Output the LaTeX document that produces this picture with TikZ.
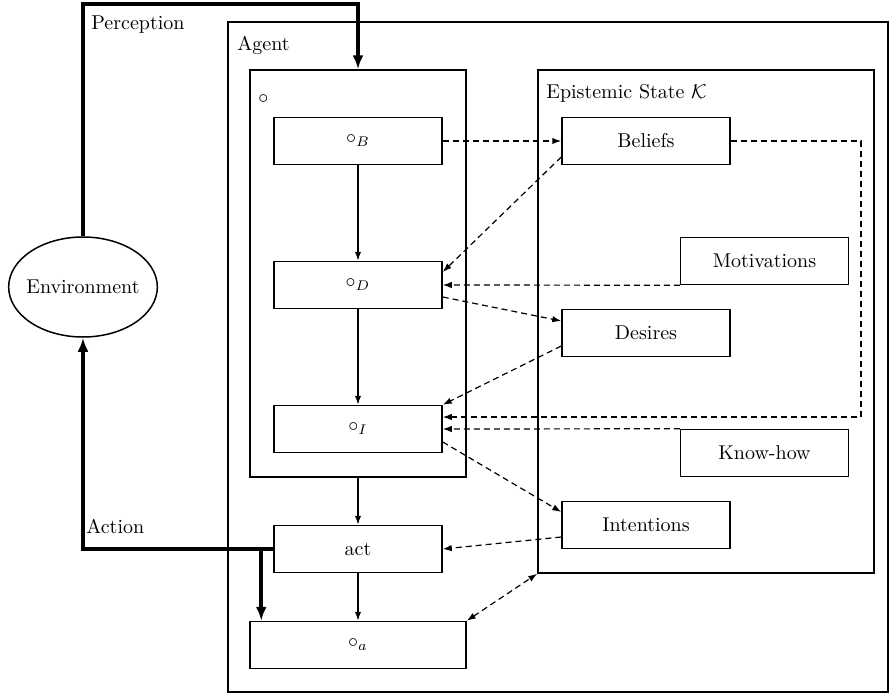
\documentclass[tikz,border=0pt]{standalone}
\usetikzlibrary{arrows.meta,calc,shapes.geometric}
\begin{document}
\begin{tikzpicture}[x=0.5pt,y=-0.5pt,
  frame/.style={draw,line width=0.75pt,rectangle,inner sep=0pt},
  box/.style={frame,minimum width=84pt,minimum height=23.5pt},
  wbox/.style={frame,minimum width=108pt,minimum height=23.5pt},
  flow/.style={line width=0.6pt,-{Latex[length=4.5pt,width=3.2pt]}},
  link/.style={flow,dash pattern=on 3pt off 2pt},
  heavy/.style={line width=2pt,-{Latex[length=7pt,width=5.5pt]}},
  lbl/.style={anchor=west,inner sep=0pt}]
\useasboundingbox (0,0) rectangle (890,697);

% outer containers
\node[frame,minimum width=330pt,minimum height=335pt] (agent) at (558,357) {};
\node[frame,minimum width=108pt,minimum height=203.5pt] (inner) at (358,273.5) {};
\node[frame,minimum width=168pt,minimum height=251.5pt] (epi) at (706,321.5) {};

% labels
\node[lbl] (tperc) at (91,25) {Perception};
\node[lbl] (tagent) at (237,45) {Agent};
\node[lbl] (tcirc) at (258,99) {$\circ$};
\node[lbl] (tepi) at (546,93) {Epistemic State $\mathcal{K}$};
\node[lbl] (tact) at (86,526) {Action};

% operator boxes
\node[box] (bB) at (358,141) {$\circ_B$};
\node[box] (bD) at (358,285) {$\circ_D$};
\node[box] (bI) at (358,429) {$\circ_I$};
\node[box] (act) at (358,549) {act};
\node[wbox] (ba) at (358,645) {$\circ_a$};

% epistemic components
\node[box] (bel) at (646,141) {Beliefs};
\node[box] (mot) at (764.5,261) {Motivations};
\node[box] (des) at (646,333) {Desires};
\node[box] (kh) at (764.5,453) {Know-how};
\node[box] (int) at (646,525) {Intentions};

% environment
\node[draw,line width=0.75pt,ellipse,minimum width=73pt,minimum height=50pt,inner xsep=-2pt,inner ysep=0pt] (env) at (83,287) {Environment};

% internal flow
\draw[flow] (bB.south) -- (bD.north);
\draw[flow] (bD.south) -- (bI.north);
\draw[flow] (inner.south) -- (act.north);
\draw[flow] (act.south) -- (ba.north);

% epistemic links
\draw[link] (bB.east) -- (bel.west);
\draw[link] ($(bel.west)+(0,16)$) -- ($(bD.east)+(0,-13)$);
\draw[link] (mot.south west) -- (bD.east);
\draw[link] ($(bD.east)+(0,12)$) -- ($(des.west)+(0,-12)$);
\draw[link] ($(des.west)+(0,13)$) -- (bI.north east);
\coordinate (bturn) at (861,141);
\draw[link] (bel.east) -- (bturn) |- ($(bI.east)+(0,-12)$);
\draw[link] (kh.north west) -- (bI.east);
\draw[link] ($(bI.east)+(0,13)$) -- ($(int.west)+(0,-13)$);
\draw[link] ($(int.west)+(0,12)$) -- (act.east);
\draw[link,{Latex[length=4.5pt,width=3.2pt]}-{Latex[length=4.5pt,width=3.2pt]}] (ba.north east) -- (epi.south west);

% perception and action loops
\coordinate (ptop) at (358,4);
\draw[heavy] (env.north) |- (ptop) -- (inner.north);
\draw[heavy] (act.west) -| (env.south);
\draw[heavy] ($(act.west)+(-12,0)$) -- ($(ba.north west)+(12,0)$);
\end{tikzpicture}
\end{document}
